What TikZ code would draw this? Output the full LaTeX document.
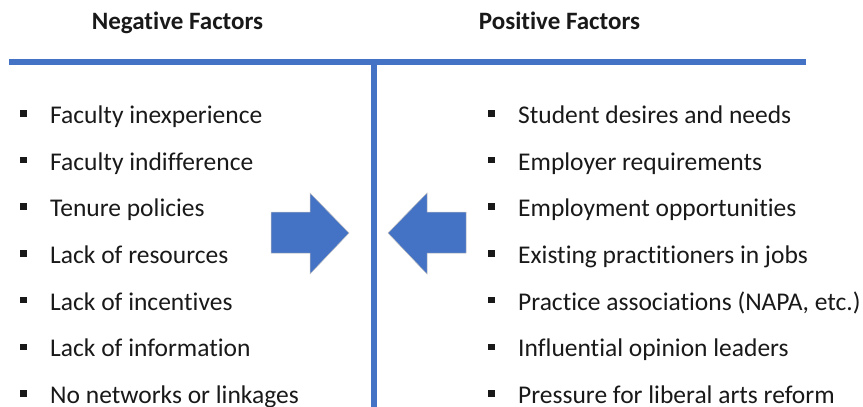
\documentclass[tikz,border=0pt]{standalone}
\usepackage{fontspec}
\setmainfont[Ligatures=NoCommon]{Carlito}
\definecolor{offblue}{HTML}{4472C4}
\begin{document}
\begin{tikzpicture}[x=1pt,y=-1pt,
  item/.style={anchor=base west, inner sep=0pt, font=\fontsize{25.5}{30}\selectfont, text=black!90},
  head/.style={anchor=base, inner sep=0pt, font=\fontsize{25}{30}\selectfont\bfseries, text=black!90},
  bullet/.style={fill=black!90, draw=none},
  bar/.style={draw=offblue, line width=6pt},
  bigarrow/.style={fill=offblue, draw=black!25, line width=0.5pt, line join=miter}]
\useasboundingbox (0,0) rectangle (863,407);
% headings
\node[head] (hneg) at (177.5,29.3) {Negative Factors};
\node[head] (hpos) at (559.5,29.3) {Positive Factors};
% bars
\coordinate (hl) at (9,62);
\coordinate (hr) at (806,62);
\coordinate (vt) at (373.5,62);
\coordinate (vb) at (373.5,407);
\draw[bar] (vt) -- (vb);
\draw[bar] (hl) -- (hr);
% arrows
\draw[bigarrow] (271,212) -- (310,212) -- (310,193) -- (349,233) -- (310,274) -- (310,253) -- (271,253) -- cycle;
\draw[bigarrow] (466,212) -- (427,212) -- (427,193) -- (388,233) -- (427,274) -- (427,253) -- (466,253) -- cycle;
% items
\foreach \t [count=\i from 0] in {Faculty inexperience, Faculty indifference, Tenure policies, Lack of resources, Lack of incentives, Lack of information, No networks or linkages}{
  \pgfmathsetmacro{\yy}{123.3+46.7*\i}
  \node[item] (l\i) at (50,\yy) {\t};
  \fill[bullet] (20.3,\yy-13.3) rectangle ++(6.5,6.5);
}
\foreach \t [count=\i from 0] in {Student desires and needs, Employer requirements, Employment opportunities, Existing practitioners in jobs, {Practice associations (NAPA, etc.)}, Influential opinion leaders, Pressure for liberal arts reform}{
  \pgfmathsetmacro{\yy}{123.3+46.7*\i}
  \node[item] (r\i) at (518,\yy) {\t};
  \fill[bullet] (488.3,\yy-13.3) rectangle ++(6.5,6.5);
}
\end{tikzpicture}
\end{document}
